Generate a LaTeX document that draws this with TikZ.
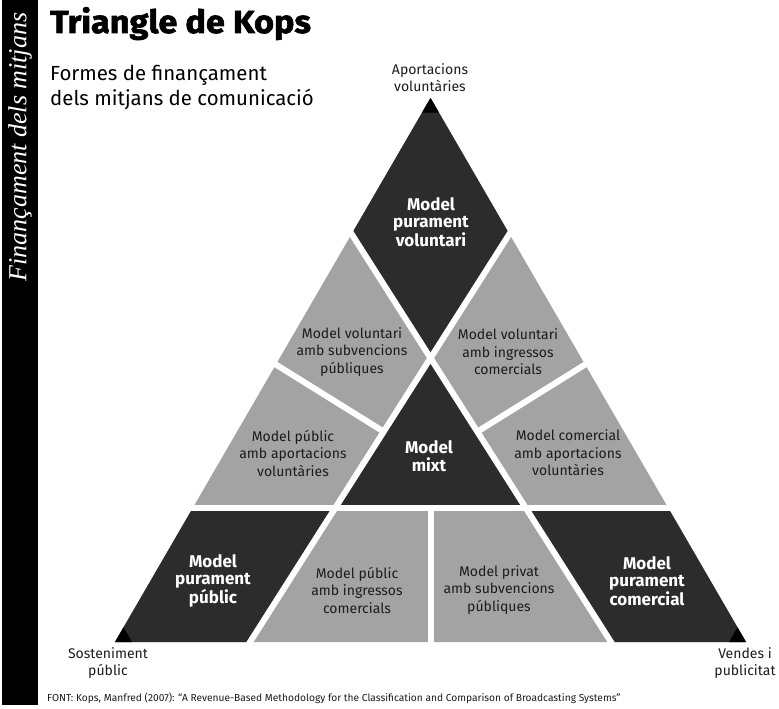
\documentclass[tikz,border=0pt]{standalone}
\usepackage{fontspec}
\setmainfont{Fira Sans}
\newfontfamily\barfont{Liberation Serif}
\newfontfamily\heavyfont{Fira Sans}[BoldFeatures={FakeBold=2, FakeStretch=1.07}]
\usepackage{tikz}
\usetikzlibrary{positioning,calc}
\usepackage{xcolor}

\definecolor{darkzone}{RGB}{44,44,44}
\definecolor{greyzone}{RGB}{163,163,163}
\definecolor{labelink}{RGB}{28,28,28}

\begin{document}
\begin{tikzpicture}[
    x=1pt, y=-1pt,
    pure/.style={text=white, font=\bfseries\fontsize{17}{17.5}\selectfont, align=center},
    mixed/.style={text=labelink, font=\fontsize{14}{17.5}\selectfont, align=center},
    corner/.style={text=labelink, font=\fontsize{14}{17}\selectfont, align=center},
    gap/.style={white, line width=6pt},
    tip/.style={fill=black}
]
\useasboundingbox (0,0) rectangle (779,709);

% Side bar
\fill[black] (2,0) rectangle (38,705);
\node[rotate=90, text=white, font=\barfont\itshape\fontsize{26}{26}\selectfont] (bartitle) at (20,147) {Finançament dels mitjans};

% Headings
\node[anchor=base west, inner sep=0pt, font=\heavyfont\bfseries\fontsize{32}{32}\selectfont] (title) at (50,33) {Triangle de Kops};
\node[anchor=base west, inner sep=0pt, align=left, font=\fontsize{20.4}{25}\selectfont] (subtitle) at (50,106) {Formes de finançament\\dels mitjans de comunicació};

% Triangle points
\coordinate (A) at (430.5,98);
\coordinate (B) at (115,642);
\coordinate (C) at (746,642);
\coordinate (P1) at ($(A)!0.25!(B)$);
\coordinate (P2) at ($(A)!0.25!(C)$);
\coordinate (E1) at (611,642);
\coordinate (E2) at (250,642);
\coordinate (H1) at ($(B)!0.2472!(A)$);
\coordinate (H2) at ($(C)!0.2472!(A)$);
\coordinate (O) at (intersection of P1--E1 and P2--E2);
\coordinate (K1) at (intersection of P2--E2 and H1--H2);
\coordinate (K2) at (intersection of P1--E1 and H1--H2);
\coordinate (G) at (430.5,460.7);
\coordinate (Q1) at ($(A)!0.49!(B)$);
\coordinate (Q2) at ($(A)!0.49!(C)$);
\coordinate (R1) at (intersection of Q1--G and P2--E2);
\coordinate (R2) at (intersection of Q2--G and P1--E1);
\coordinate (M) at ($(H1)!0.5!(H2)$);
\coordinate (D) at ($(B)!0.5!(C)$);

% Zones
\fill[greyzone] (A) -- (B) -- (C) -- cycle;
\fill[darkzone] (A) -- (P1) -- (O) -- (P2) -- cycle;
\fill[darkzone] (O) -- (K1) -- (K2) -- cycle;
\fill[darkzone] (B) -- (H1) -- (K1) -- (E2) -- cycle;
\fill[darkzone] (C) -- (H2) -- (K2) -- (E1) -- cycle;

% Gaps
\draw[gap, shorten <=-6pt, shorten >=-6pt] (P1) -- (E1);
\draw[gap, shorten <=-6pt, shorten >=-6pt] (P2) -- (E2);
\draw[gap, shorten <=-6pt, shorten >=-6pt] (H1) -- (H2);
\draw[gap, shorten >=-6pt] (M) -- (D);
\draw[gap, shorten <=-6pt] (Q1) -- (R1);
\draw[gap, shorten <=-6pt] (Q2) -- (R2);

% Corner tips
\fill[tip] (A) -- ($(A)!17pt!(B)$) -- ($(A)!17pt!(C)$) -- cycle;
\fill[tip] (B) -- ($(B)!17pt!(A)$) -- ($(B)!17pt!(C)$) -- cycle;
\fill[tip] (C) -- ($(C)!17pt!(A)$) -- ($(C)!17pt!(B)$) -- cycle;

% Models
\node[pure] (purvol) at (431,222) {Model\\purament\\voluntari};
\node[mixed] (volsub) at (352,352) {Model voluntari\\amb subvencions\\públiques};
\node[mixed] (voling) at (508,352) {Model voluntari\\amb ingressos\\comercials};
\node[mixed] (pubapo) at (293,453) {Model públic\\amb aportacions\\voluntàries};
\node[pure] (mixt) at (429,456) {Model\\mixt};
\node[mixed] (comapo) at (568,453) {Model comercial\\amb aportacions\\voluntàries};
\node[pure] (purpub) at (213,581) {Model\\purament\\públic};
\node[mixed] (pubing) at (357,590) {Model públic\\amb ingressos\\comercials};
\node[mixed] (privsub) at (499,590) {Model privat\\amb subvencions\\públiques};
\node[pure] (purcom) at (647,581) {Model\\purament\\comercial};

% Corners
\node[corner] (aportacions) at (430,78) {Aportacions\\voluntàries};
\node[corner] (sosteniment) at (108,663) {Sosteniment\\públic};
\node[corner] (vendes) at (745,663) {Vendes i\\publicitat};

% Source
\node[anchor=base west, inner sep=0pt, text=labelink, font=\fontsize{10.2}{10.2}\selectfont] (source) at (47,701) {FONT: Kops, Manfred (2007): “A Revenue-Based Methodology for the Classification and Comparison of Broadcasting Systems”};

\end{tikzpicture}
\end{document}
